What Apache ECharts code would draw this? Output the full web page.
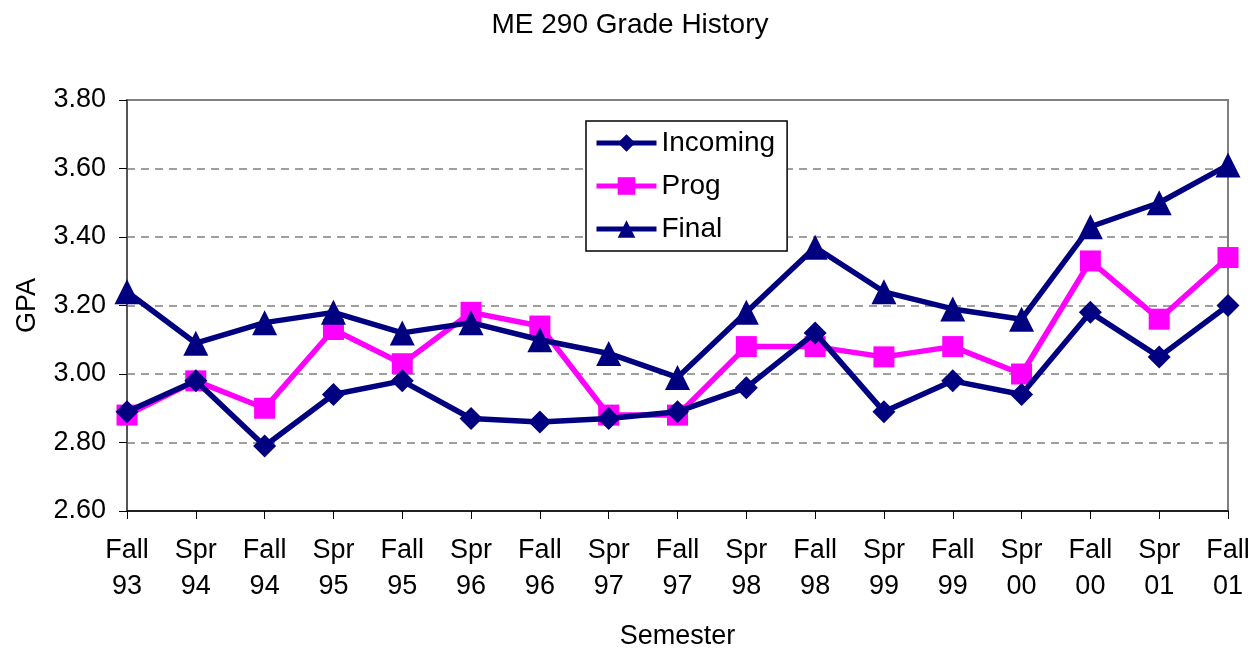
<!DOCTYPE html>
<html>
<head>
<meta charset="utf-8">
<script src="https://cdn.jsdelivr.net/npm/echarts@6/dist/echarts.min.js"></script>
<style>
  html, body { margin: 0; padding: 0; background: #fff; }
  #chart { width: 1260px; height: 648px; }
</style>
</head>
<body>
<div id="chart"></div>
<script>
// semesters on the x axis
var semesters = ['Fall\n93', 'Spr\n94', 'Fall\n94', 'Spr\n95', 'Fall\n95', 'Spr\n96', 'Fall\n96', 'Spr\n97',
  'Fall\n97', 'Spr\n98', 'Fall\n98', 'Spr\n99', 'Fall\n99', 'Spr\n00', 'Fall\n00', 'Spr\n01', 'Fall\n01'];

var incoming = [2.89, 2.98, 2.79, 2.94, 2.98, 2.87, 2.86, 2.87, 2.89, 2.96, 3.12, 2.89, 2.98, 2.94, 3.18, 3.05, 3.20];
var prog = [2.88, 2.98, 2.90, 3.13, 3.03, 3.18, 3.14, 2.88, 2.88, 3.08, 3.08, 3.05, 3.08, 3.00, 3.33, 3.16, 3.34];
var finalGpa = [3.24, 3.09, 3.15, 3.18, 3.12, 3.15, 3.10, 3.06, 2.99, 3.18, 3.37, 3.24, 3.19, 3.16, 3.43, 3.50, 3.61];

var font = 'Liberation Sans, Arial, sans-serif';
var navy = '#000080';
var pink = '#ff00ff';

var chart = echarts.init(document.getElementById('chart'));

var option = {
  animation: false,
  backgroundColor: '#fff',
  title: {
    text: 'ME 290 Grade History',
    left: 'center',
    top: 6,
    textStyle: { fontFamily: font, fontSize: 28, fontWeight: 'normal', color: '#000' }
  },
  legend: {
    orient: 'vertical',
    left: 586,
    top: 121,
    padding: [7, 12, 7, 8],
    itemGap: 13,
    itemWidth: 60,
    itemHeight: 22,
    borderColor: '#000',
    borderWidth: 1.5,
    backgroundColor: '#fff',
    lineStyle: { width: 5 },
    textStyle: { fontFamily: font, fontSize: 28, color: '#000', lineHeight: 30 },
    data: ['Incoming', 'Prog', 'Final']
  },
  grid: {
    left: 127,
    right: 32,
    top: 100,
    bottom: 137,
    show: true,
    borderColor: '#808080',
    borderWidth: 2,
    containLabel: false,
    outerBoundsMode: 'none'
  },
  xAxis: {
    type: 'category',
    data: semesters,
    boundaryGap: false,
    name: 'Semester',
    nameLocation: 'middle',
    nameGap: 112,
    nameTextStyle: { fontFamily: font, fontSize: 27, color: '#000' },
    axisLine: { lineStyle: { color: '#000', width: 1.5 } },
    axisTick: { alignWithLabel: true, length: 8, lineStyle: { color: '#000' } },
    axisLabel: {
      fontFamily: font, fontSize: 27, color: '#000',
      lineHeight: 36, margin: 22, interval: 0
    },
    splitLine: { show: false }
  },
  yAxis: {
    type: 'value',
    min: 2.6,
    max: 3.8,
    interval: 0.2,
    name: 'GPA',
    nameLocation: 'middle',
    nameGap: 86,
    nameRotate: 90,
    nameTextStyle: { fontFamily: font, fontSize: 27, color: '#000' },
    axisLine: { show: true, lineStyle: { color: '#555', width: 2 } },
    axisTick: { show: true, length: 8, lineStyle: { color: '#000' } },
    axisLabel: {
      fontFamily: font, fontSize: 27, color: '#000', margin: 21,
      formatter: function (v) { return v.toFixed(2); }
    },
    splitLine: { show: true, lineStyle: { color: '#808080', type: [8, 6], width: 1.5 } }
  },
  series: [
    {
      name: 'Incoming',
      type: 'line',
      data: incoming,
      symbol: 'diamond',
      symbolSize: 23,
      color: navy,
      lineStyle: { width: 5.5, color: navy },
      itemStyle: { color: navy },
      z: 3
    },
    {
      name: 'Prog',
      type: 'line',
      data: prog,
      symbol: 'rect',
      symbolSize: 21,
      color: pink,
      lineStyle: { width: 5.5, color: pink },
      itemStyle: { color: pink },
      z: 2
    },
    {
      name: 'Final',
      type: 'line',
      data: finalGpa,
      symbol: 'triangle',
      symbolSize: 25,
      color: navy,
      lineStyle: { width: 5.5, color: navy },
      itemStyle: { color: navy },
      z: 3
    }
  ]
};

chart.setOption(option);
</script>
</body>
</html>
